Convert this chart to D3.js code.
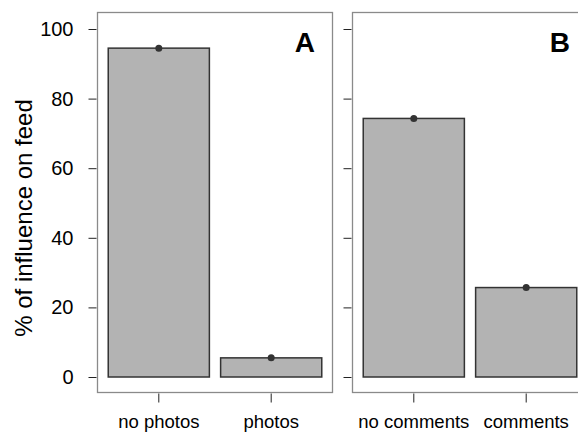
<!DOCTYPE html>
<html>
<head>
<meta charset="utf-8">
<script src="https://cdn.jsdelivr.net/npm/d3@7"></script>
<style>
  body { margin: 0; background: #fff; }
  svg { display: block; font-family: "Liberation Sans", Arial, Helvetica, sans-serif; }
</style>
</head>
<body>
<div id="chart"></div>
<script>
// panel A: photos
var catsA = ["no photos", "photos"];
var valsA = [94.5, 5.5];
// panel B: comments
var catsB = ["no comments", "comments"];
var valsB = [74.3, 25.7];
var yTicks = [0, 20, 40, 60, 80, 100];
var yTitle = "% of influence on feed";

var width = 578;
var height = 432;
var boxTop = 12, boxBottom = 393;

var svg = d3.select("#chart")
    .append("svg")
    .attr("width", width)
    .attr("height", height);

var y = d3.scaleLinear()
    .domain([0, 100])
    .range([377, 29]);

function panel(cats, vals, left, right, letter, showLabels) {
    var g = svg.append("g");
    var x = d3.scaleBand()
        .domain(cats)
        .range([left, right])
        .padding(0.1);

    // box
    g.append("rect")
        .attr("x", left + 0.5)
        .attr("y", boxTop + 0.5)
        .attr("width", right - left - 1)
        .attr("height", boxBottom - boxTop - 1)
        .attr("fill", "none")
        .attr("stroke", "#8a8a8a")
        .attr("stroke-width", 1.3);

    // y axis
    var yAxis = d3.axisLeft(y)
        .tickValues(yTicks)
        .tickSize(8)
        .tickPadding(6)
        .tickFormat(showLabels ? d3.format("d") : "");
    var ya = g.append("g")
        .attr("transform", "translate(" + (left - 0.5) + ",0)")
        .call(yAxis);
    ya.select(".domain").remove();
    ya.selectAll("line").attr("stroke", "#222");
    ya.selectAll("text")
        .attr("fill", "#000")
        .style("font-size", "20px")
        .attr("dx", "-9");

    // x axis
    var xAxis = d3.axisBottom(x)
        .tickSize(9)
        .tickPadding(12);
    var xa = g.append("g")
        .attr("transform", "translate(0," + (boxBottom + 0.5) + ")")
        .call(xAxis);
    xa.select(".domain").remove();
    xa.selectAll("line").attr("stroke", "#222");
    xa.selectAll("text")
        .attr("fill", "#000")
        .style("font-size", "18.5px");

    // bars
    g.selectAll("rect.bar")
        .data(vals)
        .enter().append("rect")
        .attr("class", "bar")
        .attr("x", function(d, i) { return x(cats[i]); })
        .attr("y", function(d) { return y(d); })
        .attr("width", x.bandwidth())
        .attr("height", function(d) { return y(0) - y(d); })
        .attr("fill", "#b3b3b3")
        .attr("stroke", "#333")
        .attr("stroke-width", 1.5);

    // points
    g.selectAll("circle")
        .data(vals)
        .enter().append("circle")
        .attr("cx", function(d, i) { return x(cats[i]) + x.bandwidth() / 2; })
        .attr("cy", function(d) { return y(d); })
        .attr("r", 3.5)
        .attr("fill", "#333");

    // panel letter
    g.append("text")
        .attr("x", right - 18)
        .attr("y", 52)
        .attr("text-anchor", "end")
        .style("font-size", "28px")
        .style("font-weight", "bold")
        .text(letter);
}

panel(catsA, valsA, 97, 333, "A", true);
panel(catsB, valsB, 352, 588, "B", false);

svg.append("text")
    .attr("transform", "translate(32,218) rotate(-90)")
    .attr("text-anchor", "middle")
    .style("font-size", "24px")
    .text(yTitle);
</script>
</body>
</html>
